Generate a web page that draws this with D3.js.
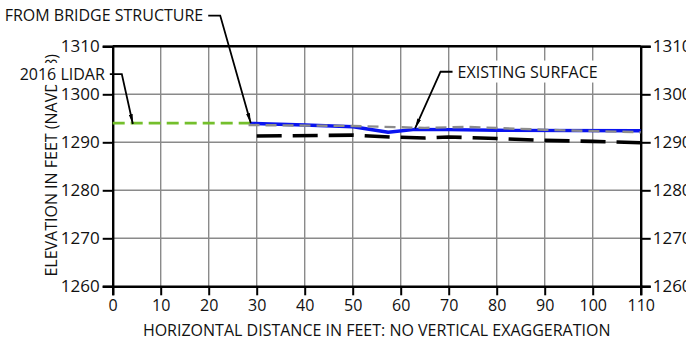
<!DOCTYPE html>
<html>
<head>
<meta charset="utf-8">
<script src="https://cdn.jsdelivr.net/npm/d3@7"></script>
<style>
  html, body { margin: 0; padding: 0; background: #fff; }
  svg { display: block; font-family: "Open Sans", sans-serif; }
</style>
</head>
<body>
<script>
// Profile data (distance in feet, elevation in feet NAVD 88)
const xTicks = [0, 10, 20, 30, 40, 50, 60, 70, 80, 90, 100, 110];
const yTicks = [1260, 1270, 1280, 1290, 1300, 1310];

const lidarX = [0, 28.6];
const lidarY = [1294.0, 1294.0];

const bridgeX = [28.6, 40, 50.1, 57.4, 63, 70, 80, 110];
const bridgeY = [1293.95, 1293.6, 1293.25, 1292.1, 1292.7, 1292.65, 1292.5, 1292.4];

const surfaceX = [28.3, 50, 65, 74, 90, 110];
const surfaceY = [1293.6, 1293.4, 1293.0, 1293.2, 1292.6, 1292.1];

const lowerX = [30, 50, 58, 65, 70, 80, 90, 100, 110];
const lowerY = [1291.3, 1291.5, 1291.1, 1290.9, 1291.1, 1290.8, 1290.4, 1290.2, 1289.9];

// Callout labels: text, elbow point and arrow tip (data units)
const callouts = [
  { text: "FROM BRIDGE STRUCTURE", elbow: [22.4, 1316.4], tip: [28.75, 1294.0], side: "left" },
  { text: "2016 LIDAR", elbow: [1.9, 1304.2], tip: [4.2, 1293.8], side: "left" },
  { text: "EXISTING SURFACE", elbow: [68.3, 1304.7], tip: [63.0, 1292.9], side: "right" }
];

const xTitle = "HORIZONTAL DISTANCE IN FEET: NO VERTICAL EXAGGERATION";
const yTitle = "ELEVATION IN FEET (NAVD 88)";

const W = 686, H = 343;
const margin = { left: 112.7, right: 45.3, top: 46.3, bottom: 56.7 };
const FS = 16;

const svg = d3.select("body").append("svg").attr("width", W).attr("height", H);

const x = d3.scaleLinear().domain([0, 110]).range([margin.left, W - margin.right]);
const y = d3.scaleLinear().domain([1260, 1310]).range([H - margin.bottom, margin.top]);

const defs = svg.append("defs");
defs.append("marker")
  .attr("id", "arrow")
  .attr("viewBox", "0 0 10 4")
  .attr("refX", 10).attr("refY", 2)
  .attr("markerWidth", 10).attr("markerHeight", 4)
  .attr("markerUnits", "userSpaceOnUse")
  .attr("orient", "auto")
  .append("path").attr("d", "M0,0 L10,2 L0,4 Z").attr("fill", "#000");

// Grid
const grid = svg.append("g");
grid.selectAll("line.gx").data(xTicks.slice(1, -1)).join("line")
  .attr("x1", d => x(d)).attr("x2", d => x(d))
  .attr("y1", y(1310)).attr("y2", y(1260))
  .attr("stroke", "#8a8a8a").attr("stroke-width", 1.4);
grid.selectAll("line.gy").data(yTicks.slice(1, -1)).join("line")
  .attr("x1", x(0)).attr("x2", x(110))
  .attr("y1", d => y(d)).attr("y2", d => y(d))
  .attr("stroke", "#8a8a8a").attr("stroke-width", 1.4);

// Axis titles (drawn before callouts so label boxes sit on top)
svg.append("text")
  .attr("transform", `translate(56.5, ${(y(1260) + y(1310)) / 2 - 1}) rotate(-90)`)
  .attr("text-anchor", "middle")
  .attr("font-size", FS)
  .attr("fill", "#111")
  .text(yTitle);

svg.append("text")
  .attr("x", (x(0) + x(110)) / 2).attr("y", 336)
  .attr("text-anchor", "middle")
  .attr("font-size", FS)
  .attr("fill", "#111")
  .text(xTitle);

// Axes
function styleAxis(g) {
  g.selectAll(".domain").attr("stroke", "#000").attr("stroke-width", 2.4);
  g.selectAll(".tick line").attr("stroke", "#000").attr("stroke-width", 2);
  g.selectAll(".tick text").attr("fill", "#111").attr("font-family", "Open Sans, sans-serif");
}
const fmt = d3.format("d");
const xAxis = svg.append("g").attr("transform", `translate(0,${y(1260)})`)
  .call(d3.axisBottom(x).tickValues(xTicks).tickFormat(fmt).tickSizeOuter(0).tickSize(9).tickPadding(4));
xAxis.selectAll(".tick text").attr("font-size", FS);
styleAxis(xAxis);

const yAxisL = svg.append("g").attr("transform", `translate(${x(0)},0)`)
  .call(d3.axisLeft(y).tickValues(yTicks).tickFormat(fmt).tickSizeOuter(0).tickSize(10).tickPadding(3));
yAxisL.selectAll(".tick text").attr("font-size", FS + 1);
styleAxis(yAxisL);

const yAxisR = svg.append("g").attr("transform", `translate(${x(110)},0)`)
  .call(d3.axisRight(y).tickValues(yTicks).tickFormat(fmt).tickSizeOuter(0).tickSize(10).tickPadding(2));
yAxisR.selectAll(".tick text").attr("font-size", FS + 1);
styleAxis(yAxisR);

// Top border
svg.append("line")
  .attr("x1", x(0)).attr("x2", x(110)).attr("y1", y(1310)).attr("y2", y(1310))
  .attr("stroke", "#000").attr("stroke-width", 2.4);

// Profile lines
const line = d3.line().x(d => x(d[0])).y(d => y(d[1]));
const zip = (xs, ys) => xs.map((v, i) => [v, ys[i]]);

svg.append("path").datum(zip(lidarX, lidarY)).attr("d", line)
  .attr("fill", "none").attr("stroke", "#74bf2c").attr("stroke-width", 2.6)
  .attr("stroke-dasharray", "12,6");

svg.append("path").datum(zip(lowerX, lowerY)).attr("d", line)
  .attr("fill", "none").attr("stroke", "#000").attr("stroke-width", 3.6)
  .attr("stroke-dasharray", "25,11");

svg.append("path").datum(zip(bridgeX, bridgeY)).attr("d", line)
  .attr("fill", "none").attr("stroke", "#0a14f0").attr("stroke-width", 3.4)
  .attr("stroke-linejoin", "round");

svg.append("path").datum(zip(surfaceX, surfaceY)).attr("d", line)
  .attr("fill", "none").attr("stroke", "#8c8c8c").attr("stroke-width", 2.4)
  .attr("stroke-dasharray", "11,6");

// Callouts
const cg = svg.append("g");
callouts.forEach(c => {
  const ex = x(c.elbow[0]), ey = y(c.elbow[1]);
  const hook = 12;
  const hx = c.side === "left" ? ex - hook : ex + hook;
  const t = cg.append("text")
    .attr("x", c.side === "left" ? hx - 5 : hx + 5)
    .attr("y", ey + 5.8)
    .attr("text-anchor", c.side === "left" ? "end" : "start")
    .attr("font-size", FS)
    .attr("fill", "#111")
    .text(c.text);
  const bb = t.node().getBBox();
  cg.insert("rect", "text")
    .attr("x", bb.x - 2).attr("y", bb.y).attr("width", bb.width + 4).attr("height", bb.height)
    .attr("fill", "#fff");
  cg.append("polyline")
    .attr("points", `${hx},${ey} ${ex},${ey} ${x(c.tip[0])},${y(c.tip[1])}`)
    .attr("fill", "none").attr("stroke", "#000").attr("stroke-width", 1.8)
    .attr("marker-end", "url(#arrow)");
});
</script>
</body>
</html>
